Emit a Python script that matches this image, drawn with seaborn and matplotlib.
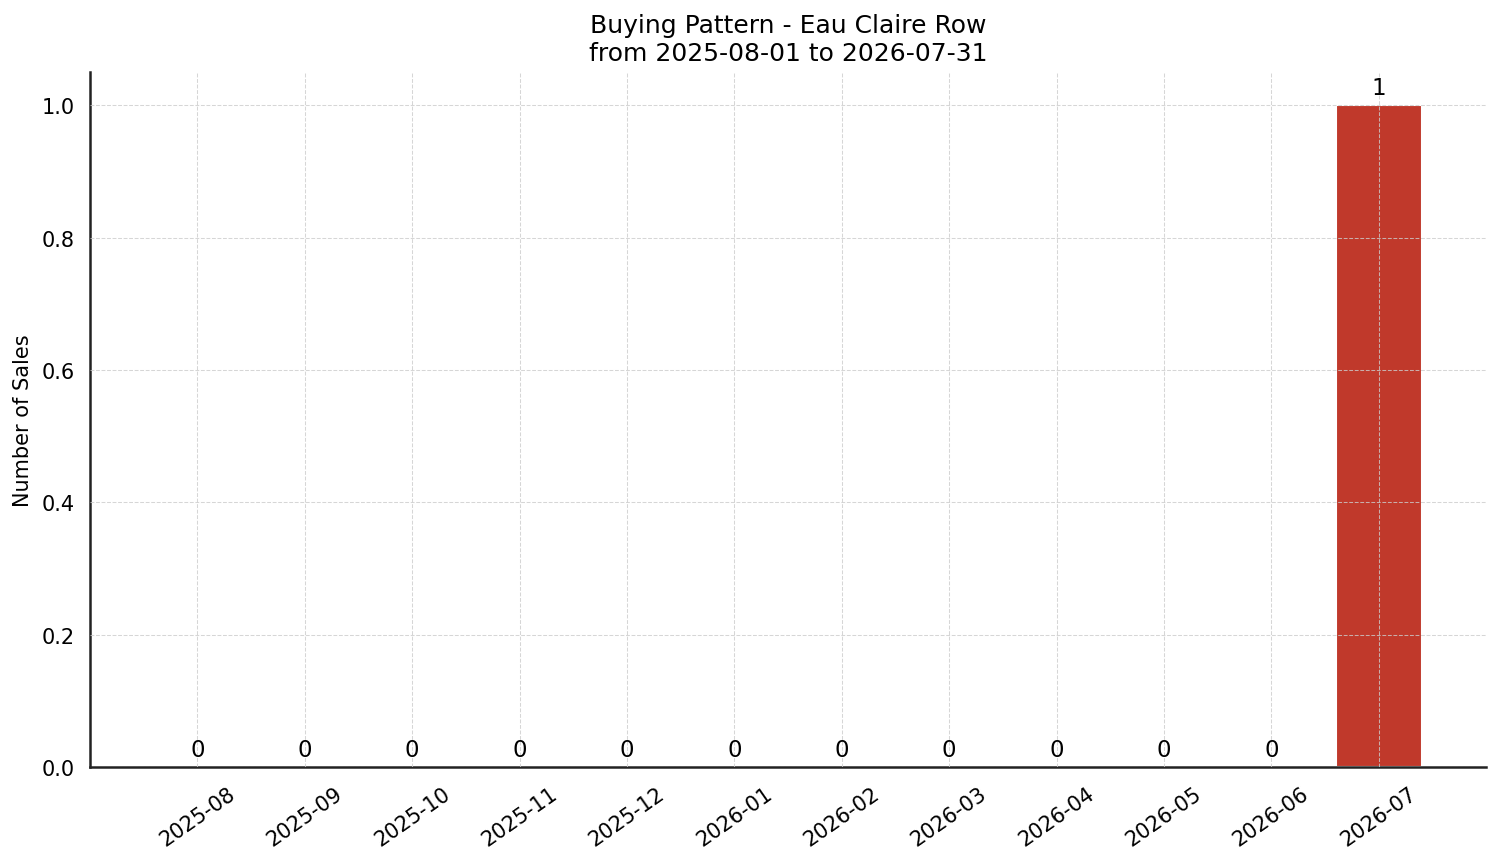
import matplotlib
matplotlib.use("Agg")
import matplotlib.pyplot as plt
import seaborn as sns
import pandas as pd

months = ["2025-08", "2025-09", "2025-10", "2025-11", "2025-12", "2026-01",
          "2026-02", "2026-03", "2026-04", "2026-05", "2026-06", "2026-07"]
sales = [0, 0, 0, 0, 0, 0, 0, 0, 0, 0, 0, 1]

df = pd.DataFrame({"month": months, "sales": sales})

sns.set_style("white")
plt.rcParams['font.family'] = ['DejaVu Sans']
plt.rcParams['text.color'] = 'black'
plt.rcParams['axes.labelcolor'] = 'black'

fig, ax = plt.subplots(figsize=(10.007, 5.753), dpi=150)
sns.barplot(data=df, x="month", y="sales", color="#c0392b", saturation=1,
            width=0.8, ax=ax)

for i, v in enumerate(sales):
    ax.annotate(str(v), (i, v), xytext=(0, 3), textcoords="offset points",
                ha="center", va="bottom", fontsize=11, color="black")

ax.set_xlim(-1, 12)
ax.set_ylim(0, 1.05)
ax.set_title("Buying Pattern - Eau Claire Row\nfrom 2025-08-01 to 2026-07-31",
             fontsize=12, color="black")
ax.set_xlabel("")
ax.set_ylabel("Number of Sales", fontsize=10, color="black")
ax.tick_params(axis="both", labelsize=10, length=4, width=1.2, colors="black")
ax.tick_params(axis="x", rotation=35)
for lab in ax.get_xticklabels():
    lab.set_ha("center")
ax.set_axisbelow(False)
ax.grid(True, linestyle="--", linewidth=0.5, color="#cccccc", alpha=0.8)
sns.despine(ax=ax)
for s in ["left", "bottom"]:
    ax.spines[s].set_color("#222222")
    ax.spines[s].set_linewidth(1.2)

plt.subplots_adjust(left=0.06, right=0.99, top=0.915, bottom=0.11)
fig.savefig("out.png", dpi=150)
